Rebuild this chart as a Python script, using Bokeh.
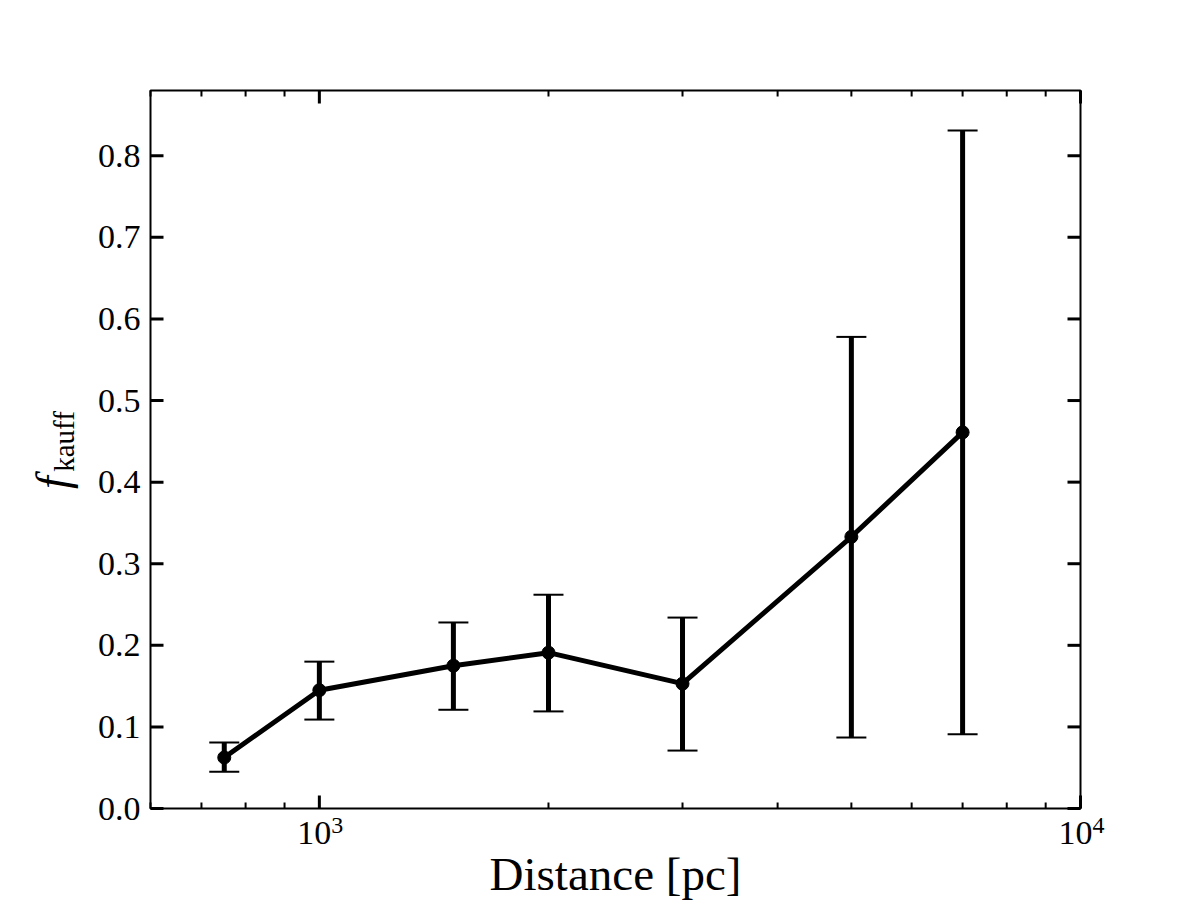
import math
from bokeh.plotting import figure
from bokeh.models import Range1d, Label
from bokeh.core.properties import value
from bokeh.embed import file_html
from bokeh.resources import INLINE

# ---- data ----
distance = [750, 1000, 1500, 2000, 3000, 5000, 7000]
f_kauff = [0.0625, 0.145, 0.175, 0.191, 0.153, 0.333, 0.461]
f_upper = [0.081, 0.180, 0.228, 0.262, 0.234, 0.578, 0.831]
f_lower = [0.045, 0.109, 0.121, 0.119, 0.071, 0.087, 0.091]

x_major = [1000, 10000]
x_major_base = ["10", "10"]
x_major_exp = ["3", "4"]
x_minor = [600, 700, 800, 900, 2000, 3000, 4000, 5000, 6000, 7000, 8000, 9000]
y_major = [0.0, 0.1, 0.2, 0.3, 0.4, 0.5, 0.6, 0.7, 0.8]
y_major_labels = ["0.0", "0.1", "0.2", "0.3", "0.4", "0.5", "0.6", "0.7", "0.8"]

X_MIN, X_MAX = 600, 10000
Y_MIN, Y_MAX = 0.0, 0.88

FONT = "Liberation Serif"

# ---- canvas and axes box (pixels) ----
W, H = 1184, 900
PX_L, PX_R, PX_T, PX_B = 150, 1080, 90, 808

# extend the ranges so that the axes box sits at the wanted place while the
# plotting frame fills the whole canvas (nothing gets clipped)
decade_px = (PX_R - PX_L) / (math.log10(X_MAX) - math.log10(X_MIN))
x_start = 10 ** (math.log10(X_MIN) - PX_L / decade_px)
x_end = 10 ** (math.log10(X_MAX) + (W - PX_R) / decade_px)
y_per_px = (Y_MAX - Y_MIN) / (PX_B - PX_T)
y_start = Y_MIN - (H - PX_B) * y_per_px
y_end = Y_MAX + PX_T * y_per_px

p = figure(width=W, height=H, x_axis_type="log", title=None,
           x_range=Range1d(x_start, x_end), y_range=Range1d(y_start, y_end),
           x_axis_location=None, y_axis_location=None,
           output_backend="svg", toolbar_location=None,
           min_border_left=0, min_border_right=0,
           min_border_top=0, min_border_bottom=0)
p.grid.visible = False
p.outline_line_color = None
p.background_fill_color = "white"
p.border_fill_color = "white"

# axes box
p.quad(left=[X_MIN], right=[X_MAX], bottom=[Y_MIN], top=[Y_MAX],
       fill_color=None, line_color="black", line_width=2)

# ticks (inward, on all four sides)
nmaj_x, nmin_x, nmaj_y = len(x_major), len(x_minor), len(y_major)
p.ray(x=x_major, y=[Y_MIN] * nmaj_x, length=13, length_units="screen",
      angle=math.pi / 2, line_color="black", line_width=3)
p.ray(x=x_major, y=[Y_MAX] * nmaj_x, length=13, length_units="screen",
      angle=-math.pi / 2, line_color="black", line_width=3)
p.ray(x=x_minor, y=[Y_MIN] * nmin_x, length=6, length_units="screen",
      angle=math.pi / 2, line_color="black", line_width=2)
p.ray(x=x_minor, y=[Y_MAX] * nmin_x, length=6, length_units="screen",
      angle=-math.pi / 2, line_color="black", line_width=2)
p.ray(x=[X_MIN] * nmaj_y, y=y_major, length=13, length_units="screen",
      angle=0, line_color="black", line_width=3)
p.ray(x=[X_MAX] * nmaj_y, y=y_major, length=13, length_units="screen",
      angle=math.pi, line_color="black", line_width=3)

# tick labels
p.text(x=[X_MIN] * nmaj_y, y=y_major, text=y_major_labels,
       x_offset=-10, text_align="right", text_baseline="middle",
       text_font=value(FONT), text_font_size="34px", text_color="black")
p.text(x=x_major, y=[Y_MIN] * nmaj_x, text=x_major_base,
       x_offset=-5, y_offset=24, text_align="center",
       text_baseline="middle",
       text_font=value(FONT), text_font_size="34px", text_color="black")
p.text(x=x_major, y=[Y_MIN] * nmaj_x, text=x_major_exp,
       x_offset=12, y_offset=17, text_align="left",
       text_baseline="middle",
       text_font=value(FONT), text_font_size="24px", text_color="black")

# error bars
p.segment(x0=distance, y0=f_lower, x1=distance, y1=f_upper,
          line_color="black", line_width=5)
p.scatter(x=distance, y=f_upper, marker="dash", size=30, line_width=2,
          line_color="black")
p.scatter(x=distance, y=f_lower, marker="dash", size=30, line_width=2,
          line_color="black")
# line + points
p.line(x=distance, y=f_kauff, line_color="black", line_width=5)
p.scatter(x=distance, y=f_kauff, size=13, fill_color="black",
          line_color="black")

# axis titles
p.add_layout(Label(x=(PX_L + PX_R) / 2, y=H - 873,
                   x_units="screen", y_units="screen",
                   text="Distance [pc]", text_font=FONT,
                   text_font_size="47px", text_align="center",
                   text_baseline="middle", text_color="black"))
p.add_layout(Label(x=52, y=H - 482, x_units="screen", y_units="screen",
                   text="f", text_font=FONT,
                   text_font_style="italic", text_font_size="46px",
                   text_align="center", text_baseline="middle",
                   angle=math.pi / 2, text_color="black"))
p.add_layout(Label(x=63, y=H - 441, x_units="screen", y_units="screen",
                   text="kauff", text_font=FONT,
                   text_font_size="29px", text_align="center",
                   text_baseline="middle", angle=math.pi / 2,
                   text_color="black"))

open("out.html", "w").write(file_html(p, INLINE))
